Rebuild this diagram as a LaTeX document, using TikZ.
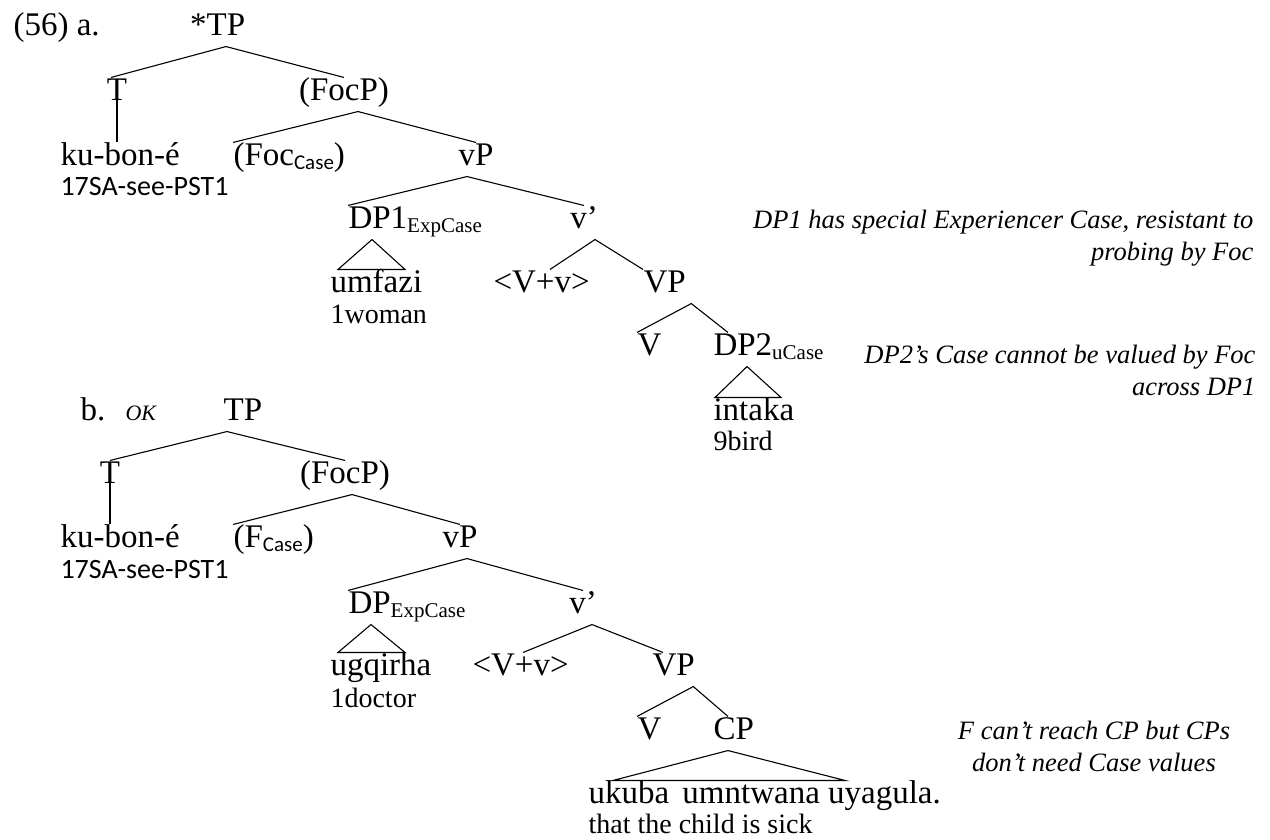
\documentclass[tikz,border=0pt]{standalone}
\usepackage{fontspec}
\setmainfont{Liberation Serif}
\newfontfamily\sansgl{Carlito}
\newcommand\catsize{\fontsize{33}{36}\selectfont}
\newcommand\glsize{\fontsize{28}{30}\selectfont}
\newcommand\notesize{\fontsize{26.5}{32}\selectfont\itshape}
\newcommand\subcase[1]{\raisebox{-4pt}{\sansgl\fontsize{21}{22}\selectfont #1}}
\newcommand\subexp[1]{\raisebox{-4pt}{\fontsize{21}{22}\selectfont #1}}

\begin{document}
\begin{tikzpicture}[x=1pt,y=-1pt,line width=1.1pt,
  cat/.style={inner sep=0pt,font=\catsize,text height=22pt,text depth=11pt,anchor=base},
  catl/.style={cat,anchor=base west},
  gl/.style={inner sep=0pt,font=\glsize,anchor=base west},
  glsf/.style={gl,font=\sansgl\glsize},
  note/.style={inner sep=0pt,font=\notesize,anchor=base east,align=right}]
\useasboundingbox (0,0) rectangle (1270,839);

% (56a) the starred tree
\node[catl] (exa) at (13,35) {(56) a.};
\node[cat] (TPa) at (226,35) {\llap{*}TP};
\node[cat] (Ta) at (117,100) {T};
\node[cat] (FocPa) at (344,100) {(FocP)};
\node[catl] (kua) at (60,165) {ku-bon-é};
\node[glsf] (glkua) at (60,195) {17SA-see-PST1};
\node[catl] (Foca) at (233,165) {(Foc\subcase{Case})};
\node[cat] (vPa) at (476,165) {vP};
\node[catl] (DPa) at (348,228) {DP1\subexp{ExpCase}};
\node[cat] (vbara) at (584,228) {v’};
\node[catl] (uma) at (330,292) {umfazi};
\node[gl] (glua) at (330,323) {1woman};
\node[catl] (Vva) at (493,292) {<V+v>};
\node[catl] (VPa) at (643,292) {VP};
\node[catl] (Va) at (637,355) {V};
\node[catl] (DP2) at (713,355) {DP2\subexp{uCase}};
\node[catl] (inta) at (713,420) {intaka};
\node[gl] (glia) at (713,450) {9bird};
% last line of a note sits on the base
\node[note] (n1) at (1254,260) {DP1 has special Experiencer Case, resistant to\\probing by Foc};
\node[note] (n2) at (1256,395) {DP2’s Case cannot be valued by Foc\\across DP1};

\draw ([xshift=-6pt]Ta.north) -- (TPa.south) -- (FocPa.north);
\draw (Ta.center) -- (Ta.center |- kua.north);
\draw (Foca.north west) -- ([xshift=14pt]FocPa.south) -- (vPa.north);
\draw (DPa.north west) -- ([xshift=-9pt]vPa.south) -- (vbara.north);
\draw ([xshift=24pt]DPa.south west) -- ([xshift=8pt]uma.north west) -- ([xshift=75pt]uma.north west) -- cycle;
\draw ([xshift=57pt]Vva.north west) -- ([xshift=11pt]vbara.south) -- (VPa.north west);
\draw (Va.north west) -- ([xshift=5pt]VPa.south east) -- ([xshift=15pt]DP2.north west);
\draw ([xshift=34pt]DP2.south west) -- ([xshift=2pt]inta.north west) -- ([xshift=68pt]inta.north west) -- cycle;

% (56b) the good tree
\node[catl] (exb) at (80,420) {b.};
\node[anchor=base west,inner sep=0pt,font=\fontsize{22}{24}\selectfont\itshape] (ok) at (125,420) {OK};
\node[cat] (TPb) at (243,420) {TP};
\node[cat] (Tb) at (110,483) {T};
\node[cat] (FocPb) at (345,483) {(FocP)};
\node[catl] (kub) at (60,547) {ku-bon-é};
\node[glsf] (glkub) at (60,578) {17SA-see-PST1};
\node[catl] (Fb) at (233,547) {(F\subcase{Case})};
\node[cat] (vPb) at (460,547) {vP};
\node[catl] (DPb) at (348,613) {DP\subexp{ExpCase}};
\node[cat] (vbarb) at (583,613) {v’};
\node[catl] (ugb) at (330,675) {ugqirha};
\node[gl] (glub) at (330,707) {1doctor};
\node[catl] (Vvb) at (472,675) {<V+v>};
\node[catl] (VPb) at (652,675) {VP};
\node[catl] (Vb) at (637,739) {V};
\node[catl] (CP) at (713,739) {CP};
\node[catl] (uk) at (588,803) {ukuba\hspace{5pt} umntwana uyagula.};
\node[gl] (gluk) at (588,833) {that the child is sick};
\node[note,align=center,anchor=base] (n3) at (1094,771) {F can’t reach CP but CPs\\don’t need Case values};

\draw (Tb.north) -- ([xshift=-16pt]TPb.south) -- (FocPb.north);
\draw (Tb.center) -- (Tb.center |- kub.north);
\draw (Fb.north west) -- ([xshift=7pt]FocPb.south) -- (vPb.north);
\draw (DPb.north west) -- ([xshift=7pt]vPb.south) -- (vbarb.north);
\draw ([xshift=23pt]DPb.south west) -- ([xshift=8pt]ugb.north west) -- ([xshift=75pt]ugb.north west) -- cycle;
\draw ([xshift=51pt]Vvb.north west) -- ([xshift=9pt]vbarb.south) -- ([xshift=11pt]VPb.north west);
\draw (Vb.north west) -- ([xshift=-2pt]VPb.south east) -- ([xshift=15pt]CP.north west);
\draw ([xshift=15pt]CP.south west) -- ([xshift=25pt]uk.north west) -- ([xshift=257pt]uk.north west) -- cycle;
\end{tikzpicture}
\end{document}
